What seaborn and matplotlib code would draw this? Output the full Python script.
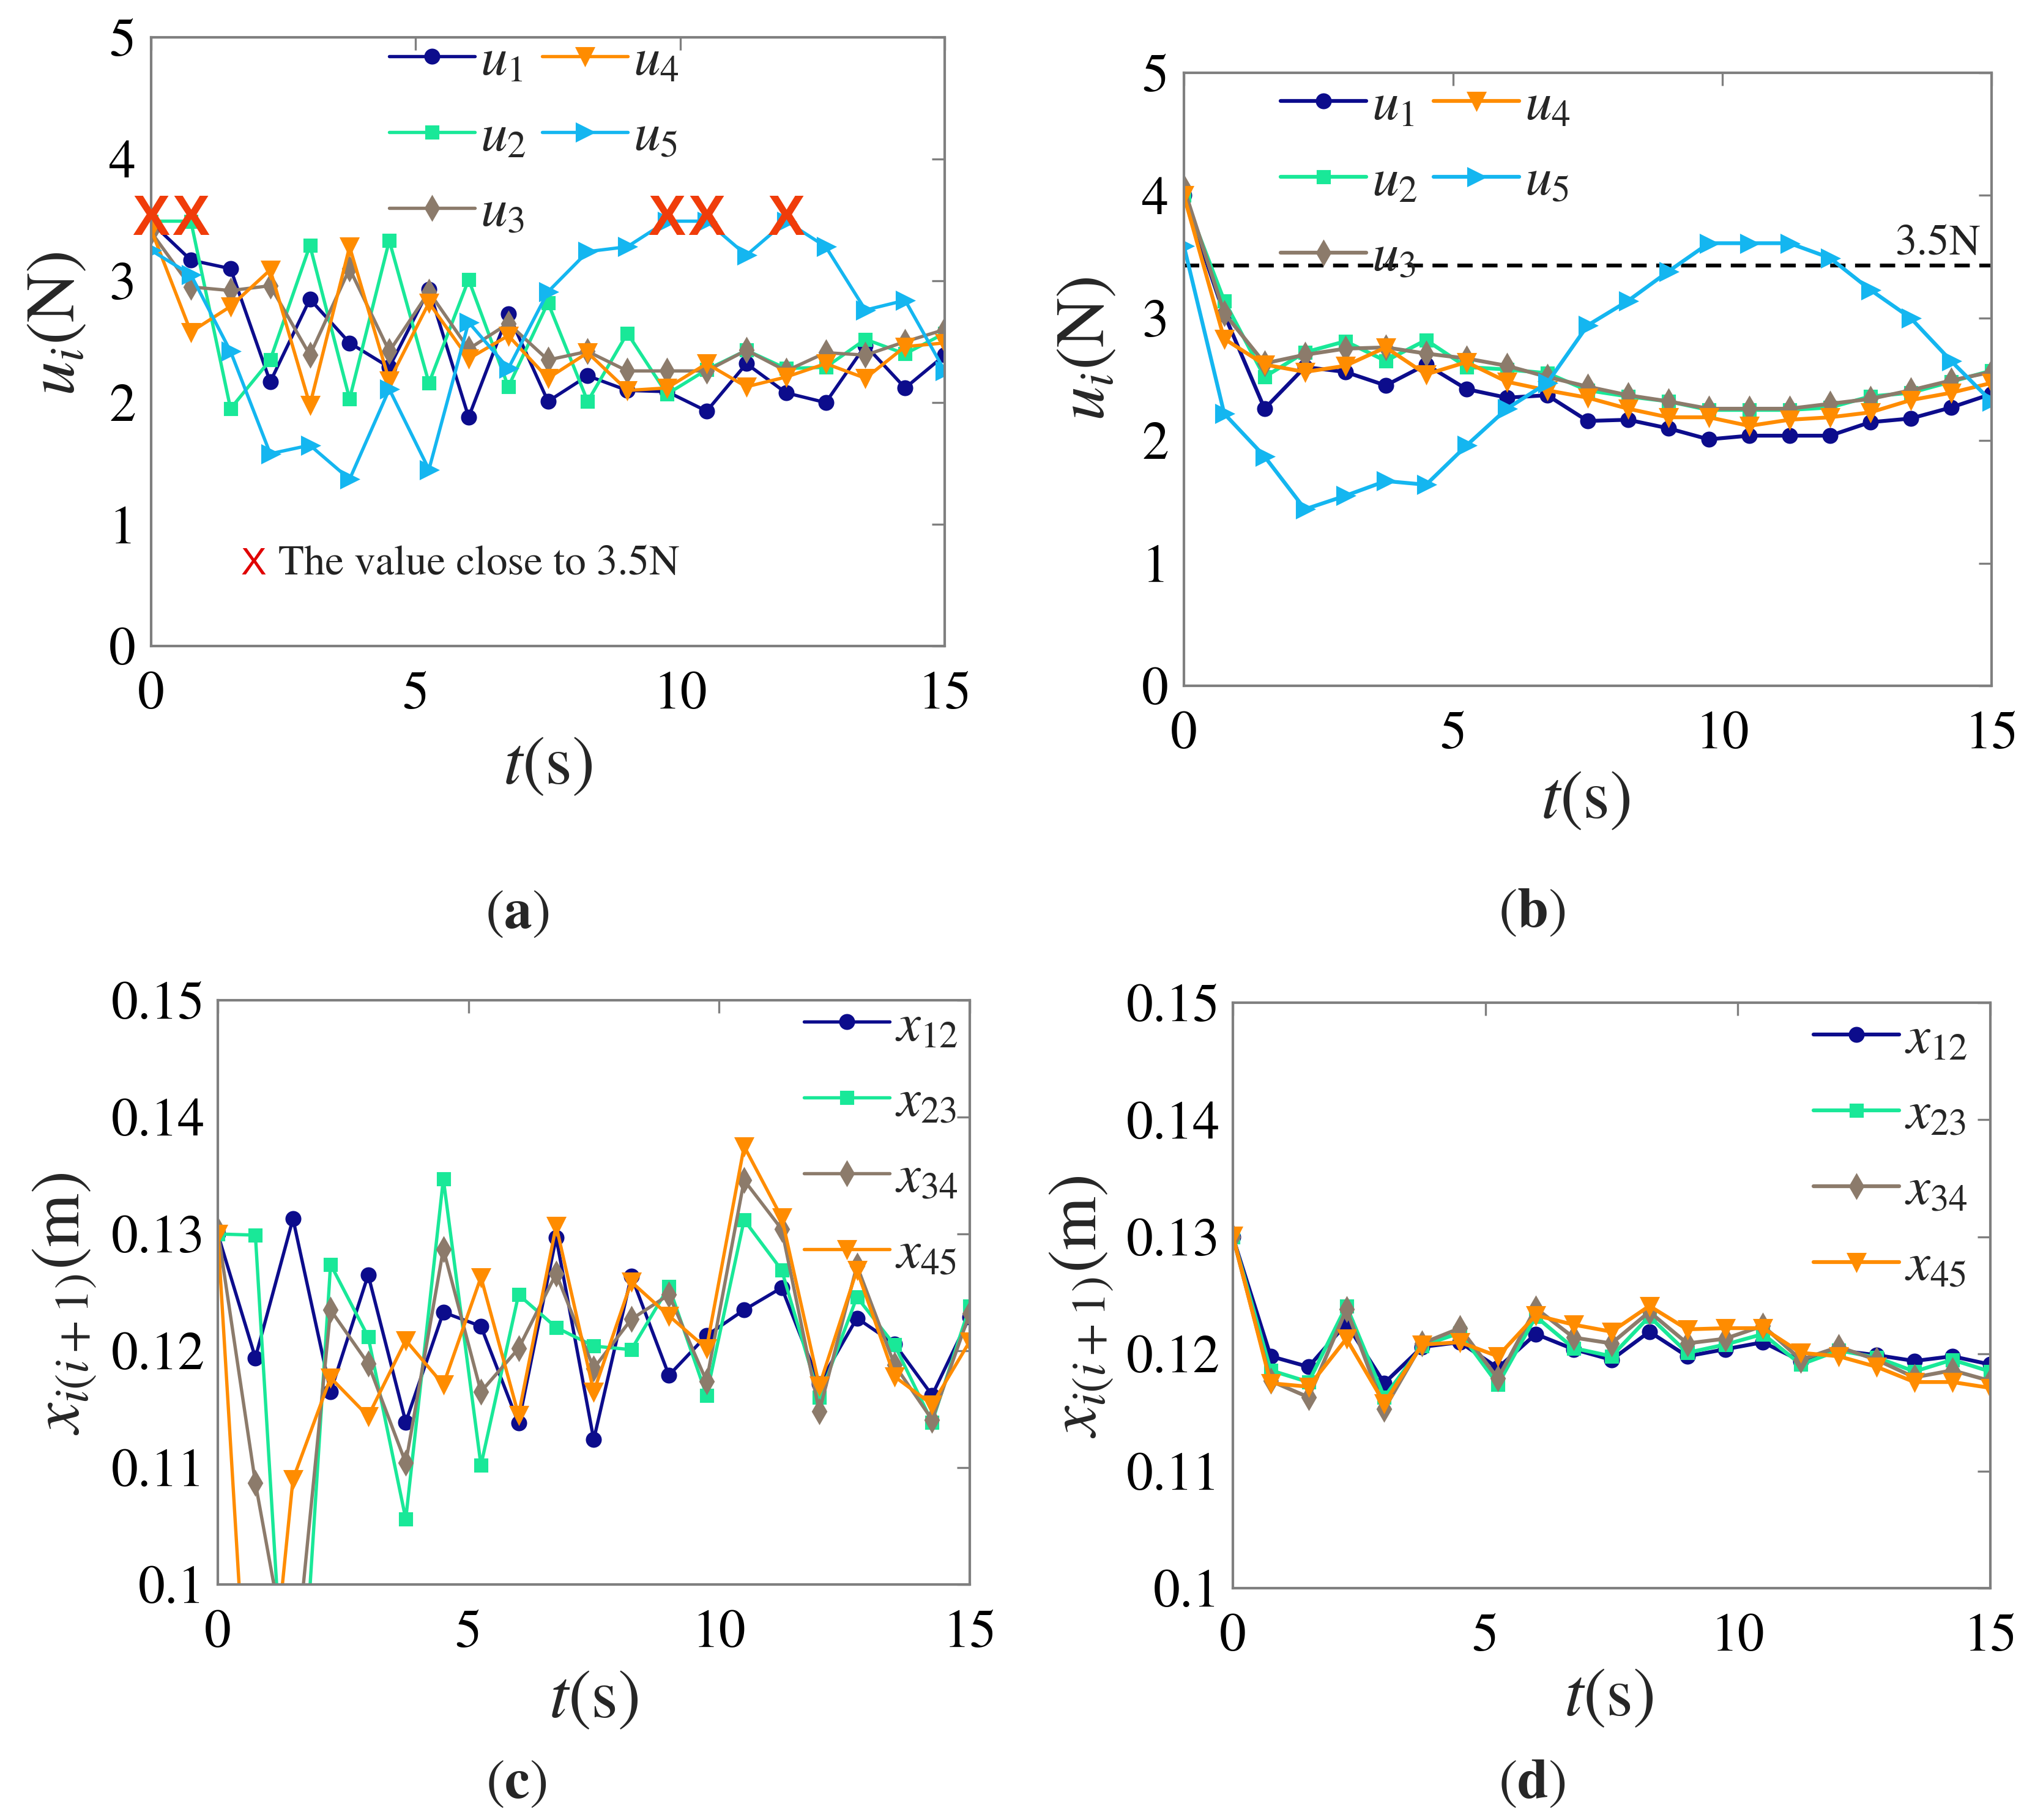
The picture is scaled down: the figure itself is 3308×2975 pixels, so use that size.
import matplotlib
matplotlib.use("Agg")
import matplotlib.pyplot as plt
import seaborn as sns
from matplotlib.ticker import FormatStrFormatter

# time samples (s)
t = [0, 0.75, 1.5, 2.25, 3, 3.75, 4.5, 5.25, 6, 6.75, 7.5,
     8.25, 9, 9.75, 10.5, 11.25, 12, 12.75, 13.5, 14.25, 15]

# (a) control forces, N
a_u1 = [3.48, 3.17, 3.10, 2.17, 2.85, 2.49, 2.29, 2.93, 1.88, 2.73, 2.01,
        2.22, 2.10, 2.09, 1.93, 2.32, 2.08, 2.00, 2.47, 2.12, 2.39]
a_u2 = [3.49, 3.49, 1.95, 2.35, 3.29, 2.03, 3.33, 2.16, 3.01, 2.13, 2.82,
        2.01, 2.57, 2.07, 2.27, 2.43, 2.28, 2.29, 2.52, 2.40, 2.57]
a_u3 = [3.40, 2.95, 2.92, 2.96, 2.39, 3.10, 2.42, 2.91, 2.44, 2.65, 2.35,
        2.42, 2.26, 2.26, 2.26, 2.43, 2.26, 2.41, 2.39, 2.50, 2.60]
a_u4 = [3.42, 2.58, 2.79, 3.09, 1.98, 3.28, 2.18, 2.82, 2.36, 2.55, 2.20,
        2.41, 2.10, 2.12, 2.32, 2.13, 2.21, 2.32, 2.20, 2.46, 2.49]
a_u5 = [3.25, 3.05, 2.42, 1.58, 1.65, 1.37, 2.11, 1.45, 2.66, 2.28, 2.91,
        3.24, 3.28, 3.49, 3.49, 3.21, 3.49, 3.28, 2.76, 2.84, 2.26]
close_t = [0, 0.75, 9.75, 10.5, 12]
close_u = [3.5, 3.5, 3.5, 3.5, 3.5]

# (b) control forces, N
b_u1 = [4.00, 3.03, 2.26, 2.60, 2.56, 2.45, 2.62, 2.42, 2.35, 2.37, 2.16,
        2.17, 2.10, 2.01, 2.04, 2.04, 2.04, 2.15, 2.18, 2.27, 2.38]
b_u2 = [4.00, 3.14, 2.52, 2.72, 2.81, 2.65, 2.82, 2.60, 2.58, 2.55, 2.41,
        2.36, 2.32, 2.25, 2.25, 2.25, 2.27, 2.36, 2.39, 2.48, 2.57]
b_u3 = [4.06, 3.04, 2.63, 2.70, 2.75, 2.76, 2.71, 2.67, 2.61, 2.52, 2.44,
        2.37, 2.32, 2.26, 2.26, 2.26, 2.30, 2.34, 2.41, 2.49, 2.56]
b_u4 = [4.00, 2.83, 2.62, 2.56, 2.61, 2.76, 2.54, 2.64, 2.48, 2.41, 2.35,
        2.26, 2.19, 2.19, 2.12, 2.17, 2.19, 2.23, 2.33, 2.39, 2.47]
b_u5 = [3.59, 2.22, 1.87, 1.44, 1.55, 1.67, 1.64, 1.96, 2.26, 2.47, 2.94,
        3.14, 3.38, 3.61, 3.61, 3.61, 3.49, 3.23, 3.00, 2.65, 2.32]
ref_level = 3.43

# (c) spacings, m
c_x12 = [0.1300, 0.1194, 0.1313, 0.1165, 0.1265, 0.1139, 0.1233, 0.1221, 0.1138, 0.1297, 0.1124,
         0.1264, 0.1179, 0.1213, 0.1235, 0.1254, 0.1172, 0.1228, 0.1206, 0.1162, 0.1229]
c_x23 = [0.1300, 0.1299, 0.0770, 0.1274, 0.1212, 0.1056, 0.1347, 0.1102, 0.1248, 0.1220, 0.1204,
         0.1201, 0.1255, 0.1162, 0.1312, 0.1269, 0.1160, 0.1246, 0.1205, 0.1139, 0.1238]
c_x34 = [0.1303, 0.1087, 0.0910, 0.1235, 0.1189, 0.1104, 0.1287, 0.1165, 0.1202, 0.1266, 0.1185,
         0.1227, 0.1248, 0.1174, 0.1346, 0.1304, 0.1148, 0.1273, 0.1188, 0.1141, 0.1232]
c_x45 = [0.1300, 0.0770, 0.1090, 0.1177, 0.1144, 0.1209, 0.1171, 0.1263, 0.1145, 0.1307, 0.1165,
         0.1259, 0.1230, 0.1202, 0.1375, 0.1314, 0.1170, 0.1269, 0.1178, 0.1154, 0.1208]

# (d) spacings, m
d_x12 = [0.1300, 0.1198, 0.1189, 0.1226, 0.1175, 0.1206, 0.1210, 0.1188, 0.1217, 0.1204, 0.1195,
         0.1219, 0.1198, 0.1204, 0.1210, 0.1194, 0.1203, 0.1199, 0.1194, 0.1198, 0.1191]
d_x23 = [0.1300, 0.1186, 0.1176, 0.1241, 0.1163, 0.1207, 0.1218, 0.1174, 0.1232, 0.1205, 0.1198,
         0.1232, 0.1201, 0.1208, 0.1217, 0.1191, 0.1203, 0.1197, 0.1185, 0.1195, 0.1185]
d_x34 = [0.1300, 0.1177, 0.1163, 0.1238, 0.1153, 0.1209, 0.1222, 0.1179, 0.1239, 0.1214, 0.1209,
         0.1236, 0.1209, 0.1213, 0.1224, 0.1195, 0.1206, 0.1195, 0.1180, 0.1186, 0.1177]
d_x45 = [0.1301, 0.1175, 0.1172, 0.1213, 0.1158, 0.1208, 0.1210, 0.1198, 0.1233, 0.1225, 0.1219,
         0.1241, 0.1221, 0.1222, 0.1222, 0.1201, 0.1198, 0.1189, 0.1176, 0.1176, 0.1171]

NAVY = "#0c0c8c"
MINT = "#19e898"
BROWN = "#8c7b6b"
ORANGE = "#ff8c00"
SKY = "#14b6f0"
SPINE = "#7f7f7f"
SANS = ["Liberation Sans Narrow", "Liberation Sans", "DejaVu Sans"]

sns.set_theme(style="white")
# Times-like text everywhere (STIX ships with matplotlib)
plt.rcParams["font.family"] = ["STIXGeneral", "DejaVu Serif"]
plt.rcParams["mathtext.fontset"] = "stix"


def draw(ax, y, color, marker, label, ms=5.5, lw=1.3):
    sns.lineplot(x=t, y=y, ax=ax, color=color, marker=marker, markersize=ms,
                 markeredgecolor=color, markerfacecolor=color, linewidth=lw,
                 label=label)


def style_axes(ax, ylim, yticks):
    ax.set_xlim(0, 15)
    ax.set_ylim(*ylim)
    ax.set_xticks([0, 5, 10, 15])
    ax.set_yticks(yticks)
    for s in ax.spines.values():
        s.set_color(SPINE)
        s.set_linewidth(1.0)
        s.set_visible(True)
    ax.tick_params(direction="in", length=5, width=0.8, color=SPINE,
                   top=True, right=True, labelsize=21, labelcolor="black")
    ax.tick_params(axis="x", pad=10)
    ax.tick_params(axis="y", pad=6)


def legend(ax, anchor, ncol=1, spacing=0.5):
    return ax.legend(loc="upper left", bbox_to_anchor=anchor, ncol=ncol,
                     frameon=False, fontsize=21, handlelength=1.6,
                     handletextpad=0.1, columnspacing=0.3,
                     labelspacing=spacing, borderpad=0, borderaxespad=0)


fig = plt.figure(figsize=(3308 / 300, 2975 / 300), dpi=300)
ax_a = fig.add_axes([0.0747, 0.6450, 0.3921, 0.3345])
ax_b = fig.add_axes([0.5849, 0.6232, 0.3990, 0.3368])
ax_c = fig.add_axes([0.1076, 0.1294, 0.3715, 0.3210])
ax_d = fig.add_axes([0.6091, 0.1274, 0.3742, 0.3217])

# ---- (a)
draw(ax_a, a_u1, NAVY, "o", "$u_1$")
draw(ax_a, a_u2, MINT, "s", "$u_2$", ms=5)
draw(ax_a, a_u3, BROWN, "d", "$u_3$", ms=6.5)
draw(ax_a, a_u4, ORANGE, "v", "$u_4$", ms=6.5)
draw(ax_a, a_u5, SKY, ">", "$u_5$", ms=6.5)
for tx, ux in zip(close_t, close_u):
    ax_a.text(tx, ux, "X", color="#f03c0a", fontsize=22, fontweight="bold",
              family=SANS, ha="center", va="center", zorder=5)
ax_a.text(1.94, 0.67, "X", color="#e00000", fontsize=15, family=SANS,
          ha="center", va="center")
ax_a.text(2.4, 0.67, "The value close to 3.5N", fontsize=16.5,
          ha="left", va="center", color="#222222")
style_axes(ax_a, (0, 5), [0, 1, 2, 3, 4, 5])
legend(ax_a, (0.30, 1.0), ncol=2)

# ---- (b)
draw(ax_b, b_u1, NAVY, "o", "$u_1$", lw=1.5)
draw(ax_b, b_u2, MINT, "s", "$u_2$", ms=5, lw=1.5)
draw(ax_b, b_u3, BROWN, "d", "$u_3$", ms=6.5, lw=1.5)
draw(ax_b, b_u4, ORANGE, "v", "$u_4$", ms=6.5, lw=1.5)
draw(ax_b, b_u5, SKY, ">", "$u_5$", ms=6.5, lw=1.5)
ax_b.axhline(ref_level, color="black", linestyle=(0, (4, 2.5)), linewidth=1.5, zorder=1)
ax_b.text(14.0, 3.6, "3.5N", fontsize=17, ha="center", va="center", color="#222222")
style_axes(ax_b, (0, 5), [0, 1, 2, 3, 4, 5])
legend(ax_b, (0.12, 0.985), ncol=2)

# ---- (c), (d)
for ax, series in ((ax_c, (c_x12, c_x23, c_x34, c_x45)),
                   (ax_d, (d_x12, d_x23, d_x34, d_x45))):
    lw = 1.3 if ax is ax_c else 1.5
    draw(ax, series[0], NAVY, "o", "$x_{12}$", lw=lw)
    draw(ax, series[1], MINT, "s", "$x_{23}$", ms=5, lw=lw)
    draw(ax, series[2], BROWN, "d", "$x_{34}$", ms=6.5, lw=lw)
    draw(ax, series[3], ORANGE, "v", "$x_{45}$", ms=6.5, lw=lw)
    style_axes(ax, (0.1, 0.15), [0.10, 0.11, 0.12, 0.13, 0.14, 0.15])
    ax.yaxis.set_major_formatter(FormatStrFormatter("%g"))
    ax.tick_params(axis="y", pad=5)
legend(ax_c, (0.78, 0.995))
legend(ax_d, (0.767, 0.978))

# axis labels
for ax, xl, yl, ylab in ((ax_a, (0.50, -0.20), (-0.117, 0.53), "$u_i$(N)"),
                         (ax_b, (0.497, -0.19), (-0.119, 0.55), "$u_i$(N)"),
                         (ax_c, (0.50, -0.20), (-0.204, 0.48), "$x_{i(i+1)}$(m)"),
                         (ax_d, (0.496, -0.19), (-0.20, 0.48), "$x_{i(i+1)}$(m)")):
    ax.set_xlabel("$t$(s)", fontsize=27)
    ax.xaxis.set_label_coords(*xl)
    ax.xaxis.label.set_va("center")
    ax.set_ylabel(ylab, fontsize=27)
    ax.yaxis.set_label_coords(*yl)
    ax.yaxis.label.set_va("center")

for x, y, letter in ((0.2554, 0.4971, "a"), (0.757, 0.4978, "b"),
                     (0.2551, 0.0192, "c"), (0.757, 0.0192, "d")):
    fig.text(x, y, "($\\mathbf{%s}$)" % letter, fontsize=22, ha="center", va="center")

fig.savefig("out.png", dpi=300, facecolor="white")
